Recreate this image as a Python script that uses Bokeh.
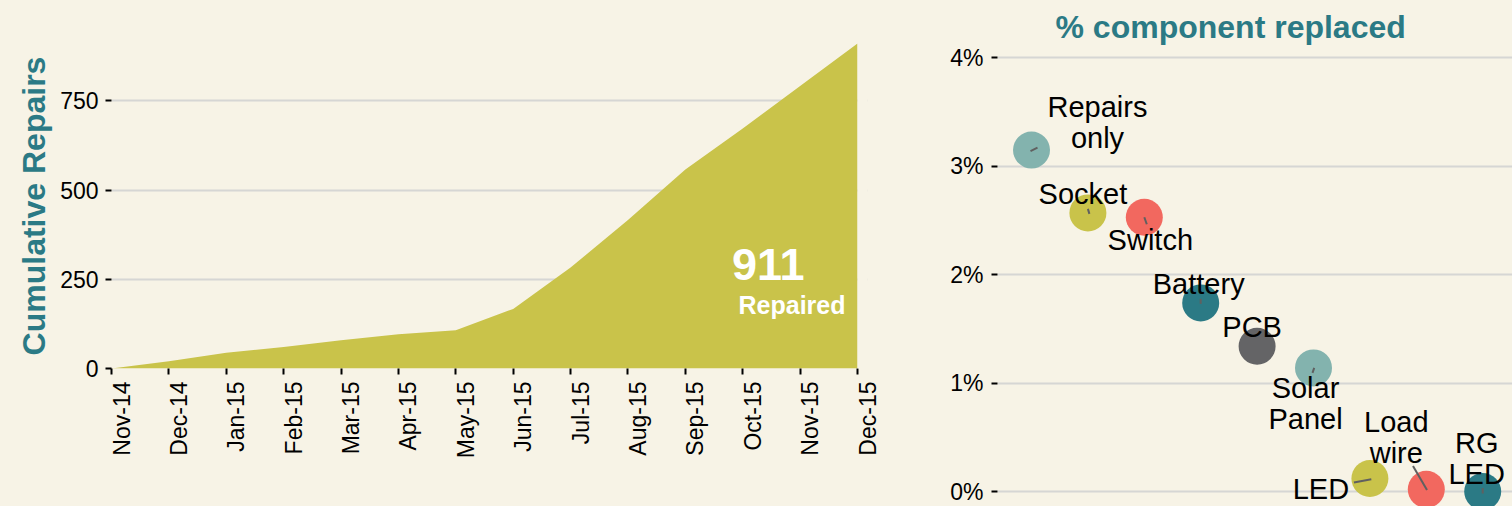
import numpy as np
from bokeh.plotting import figure
from bokeh.models import (ColumnDataSource, FixedTicker, Range1d, LinearAxis,
                          BoxAnnotation, GlobalInlineStyleSheet)
from bokeh.layouts import row
from bokeh.core.properties import value
from bokeh.embed import file_html
from bokeh.resources import INLINE

# ---------------- data ----------------
months = ["Nov-14", "Dec-14", "Jan-15", "Feb-15", "Mar-15", "Apr-15", "May-15",
          "Jun-15", "Jul-15", "Aug-15", "Sep-15", "Oct-15", "Nov-15", "Dec-15"]
cumulative_repairs = [0, 20, 44, 60, 79, 96, 107, 167, 283, 416, 558, 673, 792, 911]
repair_ticks = [0, 250, 500, 750]

components = ["Repairs\nonly", "Socket", "Switch", "Battery", "PCB",
              "Solar\nPanel", "LED", "Load\nwire", "RG\nLED"]
pct_replaced = [3.15, 2.57, 2.53, 1.74, 1.34, 1.14, 0.12, 0.02, 0.0]
pct_ticks = [0, 1, 2, 3, 4]
pct_tick_labels = ["0%", "1%", "2%", "3%", "4%"]

# ---------------- style ----------------
BG = "#f7f3e6"
TEAL = "#2b7a85"
OLIVE = "#c9c34a"
GRID = "#d6d6d4"
palette = ["#83b3ae", "#c9c34a", "#f2685f", "#2b7a85", "#646466"]
FONT = "Liberation Sans"

# label placement (screen px relative to each point; ggrepel-like)
lab_dx = [66, -5, 6, -2, -5, -8, -49, -30, -6]
lab_dy = [-28, -19, 22.6, -18.7, -19.7, 35.6, 11, -51.5, -33]
seg_sx = [-1, 0, 0, 0, 0, 0.7, -16, -13.3, 0]
seg_sy = [1, -4, 0, -4, 0, 0, 4, -23.3, -3.4]
seg_ex = [6, 1.5, 2.5, 0, 0, -1, 1.4, 0.7, 0]
seg_ey = [-2.5, 1, 7, 1, 0, 5, 0.7, 0.7, 2]

# ---------------- left: cumulative repairs ----------------
W1, H = 900, 506
ML1, MT1, MB1 = 111, 43, 138
n_last = len(months) - 1
px_per_month = 746 / n_last          # month spacing on screen
nudge = 10                           # month labels sit right of their tick
MR1 = W1 - ML1 - int(round(n_last * px_per_month + nudge))
idx = list(range(len(months)))
shift = nudge / px_per_month
p1 = figure(width=W1, height=H, output_backend="svg", toolbar_location=None,
            x_range=Range1d(0, n_last + shift),
            y_range=Range1d(0, max(cumulative_repairs)),
            min_border_left=ML1, min_border_right=MR1,
            min_border_top=MT1, min_border_bottom=MB1,
            background_fill_color=BG, border_fill_color=BG,
            outline_line_color=None, x_axis_type=None, frame_align=False)

p1.varea(x=idx, y1=0, y2=cumulative_repairs, fill_color=OLIVE)
# nothing is drawn right of the last month
p1.add_layout(BoxAnnotation(left=idx[-1], fill_color=BG, fill_alpha=1.0,
                            line_color=None))

yax = p1.yaxis[0]
yax.ticker = FixedTicker(ticks=repair_ticks)
yax.axis_line_color = None
yax.major_tick_out = 6
yax.major_tick_in = 0
yax.major_tick_line_width = 2
yax.major_tick_line_color = "black"
yax.minor_tick_line_color = None
yax.major_label_standoff = 7
yax.major_label_text_font = FONT
yax.major_label_text_font_size = "23px"
yax.major_label_text_color = "black"
yax.axis_label = "Cumulative Repairs"
yax.axis_label_text_font = FONT
yax.axis_label_text_font_size = "32px"
yax.axis_label_text_font_style = "bold"
yax.axis_label_text_color = TEAL
yax.axis_label_standoff = 5

p1.ygrid.ticker = FixedTicker(ticks=repair_ticks)
p1.ygrid.grid_line_color = GRID
p1.ygrid.grid_line_width = 2
p1.xgrid.grid_line_color = None

# month tick marks (minor ticks, no labels)
ax_ticks = LinearAxis(ticker=FixedTicker(ticks=[], minor_ticks=idx),
                      minor_tick_out=6, minor_tick_in=0,
                      minor_tick_line_width=2, minor_tick_line_color="black",
                      major_tick_out=6, major_tick_in=0,
                      axis_line_color=None, major_label_standoff=0)
p1.add_layout(ax_ticks, "below")
# rotated month labels
p1.extra_x_ranges = {"lbl": Range1d(-shift, n_last)}
ax_lbl = LinearAxis(x_range_name="lbl", ticker=FixedTicker(ticks=idx),
                    major_label_overrides={i: m for i, m in enumerate(months)},
                    major_tick_out=0, major_tick_in=0, major_tick_line_color=None,
                    axis_line_color=None, minor_tick_line_color=None,
                    major_label_orientation=np.pi / 2, major_label_standoff=7,
                    major_label_text_font=FONT, major_label_text_font_size="23px",
                    major_label_text_color="black")
p1.add_layout(ax_lbl, "below")

p1.text(x=[idx[-1]], y=[cumulative_repairs[-1]], text=[str(cumulative_repairs[-1])],
        x_offset=-53, y_offset=221, text_align="right", text_baseline="middle",
        text_font=value(FONT), text_font_size="45px", text_font_style="bold",
        text_color="white")
p1.text(x=[idx[-1]], y=[cumulative_repairs[-1]], text=["Repaired"],
        x_offset=-12, y_offset=261, text_align="right", text_baseline="middle",
        text_font=value(FONT), text_font_size="25px", text_font_style="bold",
        text_color="white")

# ---------------- right: % component replaced ----------------
W2 = 1512 - W1
ML2, MT2 = 97, 45
fw2 = W2 - ML2
fh2 = H - MT2
kx = 56.4          # px per category
ky = 108.4         # px per percent
x0 = 1 - 34 / kx
y0 = -15 / ky
xr = Range1d(x0, x0 + fw2 / kx)
yr = Range1d(y0, y0 + fh2 / ky)

p2 = figure(width=W2, height=H, output_backend="svg", toolbar_location=None,
            x_range=xr, y_range=yr,
            min_border_left=ML2, min_border_right=0,
            min_border_top=MT2, min_border_bottom=0,
            background_fill_color=BG, border_fill_color=BG,
            outline_line_color=None, x_axis_type=None, frame_align=False)
p2.title.text = "% component replaced"
p2.title.align = "left"
p2.title.offset = 58
p2.title.standoff = 2
p2.title.text_font = FONT
p2.title.text_font_size = "32px"
p2.title.text_font_style = "bold"
p2.title.text_color = TEAL

yax2 = p2.yaxis[0]
yax2.ticker = FixedTicker(ticks=pct_ticks)
yax2.major_label_overrides = dict(zip(pct_ticks, pct_tick_labels))
yax2.axis_line_color = None
yax2.major_tick_out = 6
yax2.major_tick_in = 0
yax2.major_tick_line_width = 2
yax2.major_tick_line_color = "black"
yax2.minor_tick_line_color = None
yax2.major_label_standoff = 8
yax2.major_label_text_font = FONT
yax2.major_label_text_font_size = "23px"
yax2.major_label_text_color = "black"
p2.ygrid.ticker = FixedTicker(ticks=pct_ticks)
p2.ygrid.grid_line_color = GRID
p2.ygrid.grid_line_width = 2
p2.xgrid.grid_line_color = None

xs = list(range(1, len(components) + 1))
colors = [palette[i % len(palette)] for i in range(len(components))]
src = ColumnDataSource(dict(x=xs, y=pct_replaced, label=components, color=colors,
                            dx=lab_dx, dy=lab_dy))
p2.scatter(x="x", y="y", size=37, fill_color="color", line_color=None, source=src)

sx0 = [x + a / kx for x, a in zip(xs, seg_sx)]
sy0 = [y - b / ky for y, b in zip(pct_replaced, seg_sy)]
sx1 = [x + a / kx for x, a in zip(xs, seg_ex)]
sy1 = [y - b / ky for y, b in zip(pct_replaced, seg_ey)]
p2.segment(x0=sx0, y0=sy0, x1=sx1, y1=sy1, line_color="#606060", line_width=2)

p2.text(x="x", y="y", text="label", x_offset="dx", y_offset="dy", source=src,
        text_align="center", text_baseline="middle", text_line_height=0.97,
        text_font=value(FONT), text_font_size="29px", text_color="black")

layout = row(p1, p2, stylesheets=[GlobalInlineStyleSheet(
    css="html, body { background-color: #f7f3e6; }")])

open("out.html", "w").write(file_html(layout, INLINE))
